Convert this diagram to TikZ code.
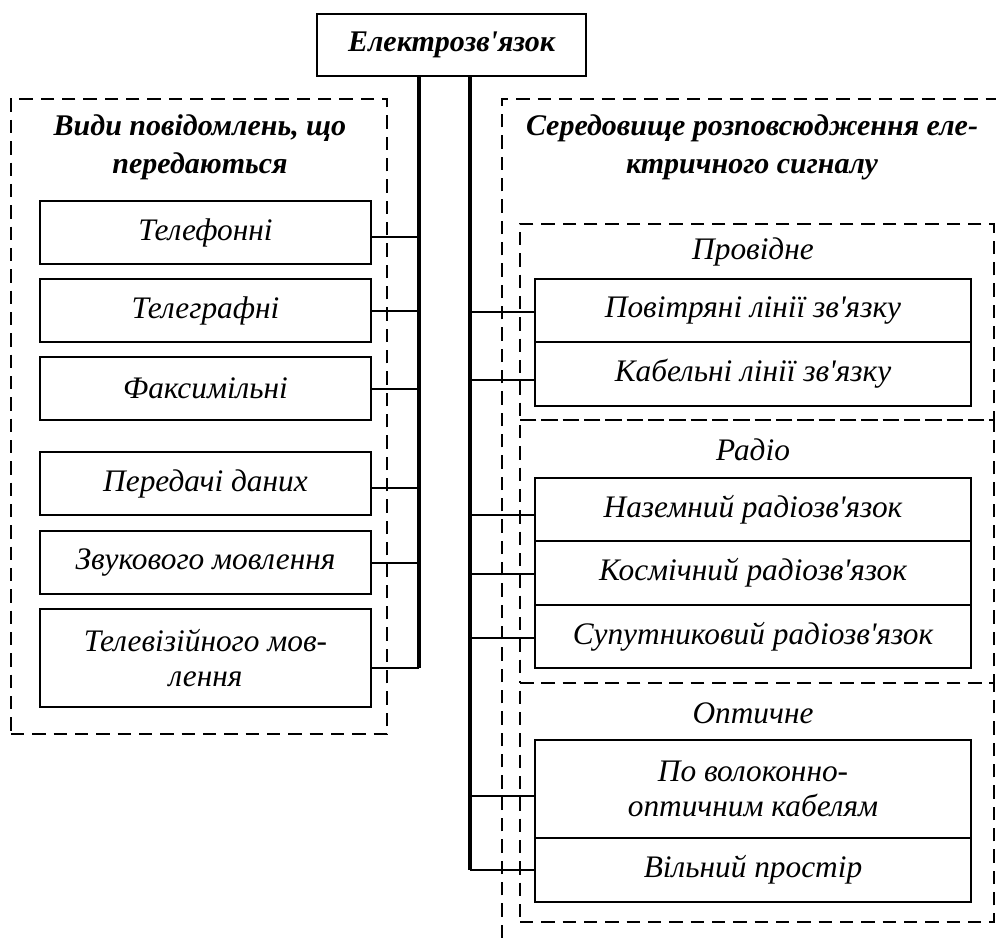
\documentclass[tikz,border=0pt]{standalone}
\usepackage{fontspec}
\setmainfont{Liberation Serif}[Ligatures=TeXOff]
\newcommand\txtf{\fontsize{23.5}{26}\selectfont\itshape}
\newcommand\ttlf{\fontsize{22.5}{28.5}\selectfont\bfseries\itshape}
\begin{document}
\begin{tikzpicture}[x=0.75pt,y=-0.75pt,
  box/.style={draw, line width=1.4pt, inner sep=0pt, font=\txtf, align=center},
  dline/.style={line width=1.4pt, dash pattern=on 10pt off 6pt},
  dbox/.style={draw, dline, inner sep=0pt},
  bus/.style={line width=3pt},
  conn/.style={line width=1.4pt},
  ttl/.style={font=\ttlf, align=center, inner sep=0pt},
  sub/.style={font=\txtf, inner sep=0pt}]
\useasboundingbox (0,0) rectangle (996,938);
\newcommand\pbox[7][box]{%
  \pgfmathsetmacro\bw{(#5-#3)*0.75}\pgfmathsetmacro\bh{(#6-#4)*0.75}%
  \node[#1, minimum width=\bw pt, minimum height=\bh pt] (#2) at ({(#3+#5)/2},{(#4+#6)/2}) {#7};}

% top
\pbox[box,font=\ttlf]{top}{317}{14}{586}{76}{Електрозв'язок}

% left group
\pbox[dbox]{grpL}{11}{99}{387}{734}{}
\node[ttl] (ttlL) at (200,147) {Види повідомлень, що\\передаються};
\pbox{l1}{40}{201}{371}{264}{Телефонні}
\pbox{l2}{40}{279}{371}{342}{Телеграфні}
\pbox{l3}{40}{357}{371}{420}{Факсимільні}
\pbox{l4}{40}{452}{371}{515}{Передачі даних}
\pbox{l5}{40}{531}{371}{594}{Звукового мовлення}
\pbox{l6}{40}{609}{371}{707}{Телевізійного мов-\\лення}

% right group (outer frame, cut off at right and bottom)
\coordinate (oA) at (502,938);
\coordinate (oB) at (502,99);
\coordinate (oC) at (996,99);
\draw[dline] (oA) -- (oB) -- (oC);
\node[ttl] (ttlR) at (752,147) {Середовище розповсюдження еле-\\ктричного сигналу};

\pbox[dbox]{g1}{520}{224}{994}{420}{}
\pbox[dbox]{g2}{520}{420}{994}{683}{}
\pbox[dbox]{g3}{520}{683}{994}{922}{}
\node[sub] (s1) at (753,252) {Провідне};
\node[sub] (s2) at (753,450) {Радіо};
\node[sub] (s3) at (753,713) {Оптичне};

\pbox{r1}{535}{279}{971}{342}{Повітряні лінії зв'язку}
\pbox{r2}{535}{342}{971}{406}{Кабельні лінії зв'язку}
\pbox{r3}{535}{478}{971}{541}{Наземний радіозв'язок}
\pbox{r4}{535}{541}{971}{605}{Космічний радіозв'язок}
\pbox{r5}{535}{605}{971}{668}{Супутниковий радіозв'язок}
\pbox{r6}{535}{740}{971}{838}{По волоконно-\\оптичним кабелям}
\pbox{r7}{535}{838}{971}{902}{Вільний простір}

% buses
\coordinate (lb) at (419,668);
\coordinate (rb) at (470,870);
\draw[bus] (top.south -| lb) -- (lb);
\draw[bus] (top.south -| rb) -- (rb);

% connectors
\newcommand\linkL[2]{\path ([yshift=#2]#1.east) coordinate (#1c); \draw[conn] (#1c) -- (#1c -| lb);}
\newcommand\linkR[2]{\path ([yshift=#2]#1.west) coordinate (#1c); \draw[conn] (#1c -| rb) -- (#1c);}
\linkL{l1}{-3.375pt}
\linkL{l2}{-0.375pt}
\linkL{l3}{-0.375pt}
\linkL{l4}{-3.375pt}
\linkL{l5}{-0.375pt}
\linkL{l6}{-7.5pt}
\linkR{r1}{-1.125pt}
\linkR{r2}{-4.5pt}
\linkR{r3}{-4.125pt}
\linkR{r4}{-0.75pt}
\linkR{r5}{-1.125pt}
\linkR{r6}{-5.25pt}
\linkR{r7}{0pt}
\end{tikzpicture}
\end{document}
